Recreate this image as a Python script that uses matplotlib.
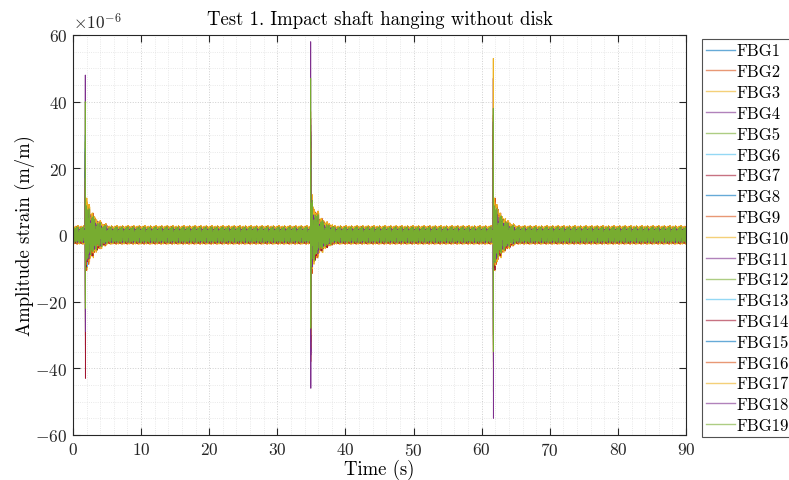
import matplotlib
matplotlib.use("Agg")
import matplotlib.pyplot as plt
from matplotlib.ticker import MultipleLocator
import numpy as np

plt.rcParams['font.family'] = 'serif'
plt.rcParams['font.serif'] = ['cmr10']
plt.rcParams['mathtext.fontset'] = 'cm'
plt.rcParams['axes.formatter.use_mathtext'] = True

# nomes dos sensores e cores (ciclo padrao do MATLAB)
sensores = ['FBG%d' % i for i in range(1, 20)]
cores_matlab = ['#0072BD', '#D95319', '#EDB120', '#7E2F8E', '#77AC30', '#4DBEEE', '#A2142F']

# instantes dos impactos (s)
t_impacto = [1.8, 34.9, 61.7]

# picos (x1e-6 m/m), um valor por sensor em cada impacto
pico_max = [
    [22, 18, 15, 26, 24, 30, 20, 17, 21, 19, 48, 28, 26, 16, 19, 14, 17, 25, 40],
    [30, 25, 37, 28, 26, 22, 31, 20, 24, 27, 33, 29, 21, 35, 23, 19, 26, 58, 47],
    [27, 31, 35, 29, 33, 25, 30, 22, 36, 28, 47, 32, 24, 26, 21, 30, 53, 34, 38],
]
pico_min = [
    [-25, -20, -30, -35, -18, -28, -22, -19, -33, -24, -30, -21, -27, -43, -23, -26, -20, -29, -22],
    [-28, -38, -30, -46, -25, -33, -27, -22, -31, -29, -35, -24, -26, -32, -23, -34, -30, -36, -28],
    [-30, -26, -40, -33, -47, -28, -31, -24, -29, -35, -38, -32, -27, -30, -25, -36, -34, -55, -35],
]

ruido = [1.3, -1.8, 0.6, 2.1, -0.4, -2.2, 1.7, -0.9, 0.2, -1.5, 2.4, -0.7, 1.1, -2.0,
         0.8, -1.2, 1.9, -0.3, -2.5, 1.4, 0.4, -1.6, 2.2, -1.0, 0.9, -1.9, 1.6, -0.5,
         2.0, -2.3, 0.3, -1.1, 1.8, -0.6, 1.2, -2.1, 2.6, -1.4, 0.5, -0.8, 1.5]
amp_ruido = [0.95, 1.0, 1.1, 0.9, 0.95, 0.95, 1.0, 0.85, 1.1, 1.1, 0.9, 0.95, 0.9,
             1.0, 0.85, 1.0, 1.1, 0.9, 0.95]

# envelope do decaimento apos o impacto (tempo apos impacto em s, fator sobre o ruido)
decai_t = [0.04, 0.3, 0.7, 1.2, 1.8, 2.5, 3.2]
decai_fator = [4.2, 3.2, 2.5, 1.9, 1.5, 1.2]

dt = 0.02
t = np.arange(0, 90, dt)


def sinal(k):
    n = len(ruido)
    passo = 1 + k % (n - 1)
    idx = (np.arange(len(t)) * passo + 5 * k) % n
    y = np.array(ruido)[idx] * amp_ruido[k]
    for j, ts in enumerate(t_impacto):
        rel = t - ts
        pos = np.searchsorted(decai_t, rel, side='right') - 1
        ok = (pos >= 0) & (pos < len(decai_fator))
        fator = np.ones_like(t)
        fator[ok] = np.array(decai_fator)[pos[ok]]
        y = y * fator
        i0 = int(round(ts / dt))
        y[i0] = pico_max[j][k]
        y[i0 + 1] = pico_min[j][k]
    return y


fig = plt.figure(figsize=(7.89, 4.81), dpi=100)
# eixo: x de 73 a 686 px, y de 36 a 436 px
ax = fig.add_axes([73 / 789, 1 - 436 / 481, 613 / 789, 400 / 481])

for k, nome in enumerate(sensores):
    ax.plot(t, sinal(k), color=cores_matlab[k % 7], lw=0.6, label=nome)

ax.set_xlim(0, 90)
ax.set_ylim(-60, 60)
ax.xaxis.set_major_locator(MultipleLocator(10))
ax.xaxis.set_minor_locator(MultipleLocator(2))
ax.yaxis.set_major_locator(MultipleLocator(20))
ax.yaxis.set_minor_locator(MultipleLocator(5))
ax.tick_params(which='both', direction='in', top=True, right=True, labelsize=12.5, colors='#262626')
ax.tick_params(which='major', length=5, pad=4)
ax.tick_params(which='minor', length=0)
ax.grid(which='major', ls=':', color='#cfcfcf', lw=0.7)
ax.grid(which='minor', ls=':', color='#e2e2e2', lw=0.6)
ax.set_axisbelow(True)
for s in ax.spines.values():
    s.set_color('#262626')
    s.set_linewidth(0.8)

ax.text(0.0, 1.008, r'$\times10^{-6}$', transform=ax.transAxes, fontsize=12.5,
        ha='left', va='bottom', color='#262626')
ax.set_title('Test 1. Impact shaft hanging without disk', fontsize=13.5, pad=8)
ax.set_xlabel('Time (s)', fontsize=13.5)
ax.set_ylabel('Amplitude strain (m/m)', fontsize=13.5)
ax.xaxis.set_label_coords(0.5, -(470 - 436) / 400, transform=ax.transAxes)
ax.xaxis.label.set_va('center')
ax.yaxis.set_label_coords(-(73 - 25) / 613, 0.5, transform=ax.transAxes)
ax.yaxis.label.set_va('center')

leg = fig.legend(loc='upper left', bbox_to_anchor=(702 / 789, 1 - 40 / 481), fontsize=12,
                 handlelength=1.7, handletextpad=0.1, labelspacing=0.33, borderpad=0.25,
                 fancybox=False, edgecolor='#262626', borderaxespad=0)
leg.get_frame().set_linewidth(0.8)
for h in leg.get_lines():
    h.set_linewidth(1.0)
    h.set_alpha(0.6)

plt.savefig('out.png', dpi=100)
